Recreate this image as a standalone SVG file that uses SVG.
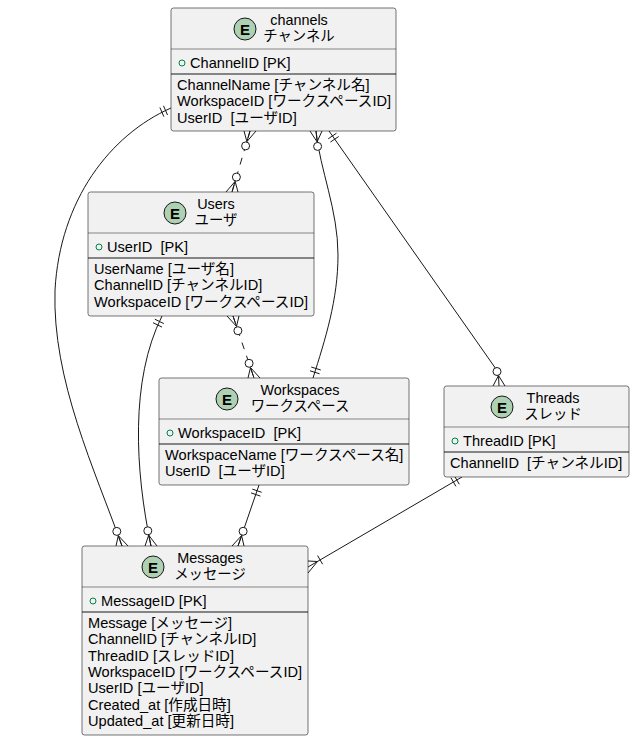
<svg xmlns="http://www.w3.org/2000/svg" width="635" height="741" viewBox="0 0 635 741">
<style>
.box{fill:#F1F1F1;stroke:#181818;stroke-width:0.6}
.hl{stroke:#181818;stroke-width:0.5}
.dv{stroke:#181818;stroke-width:1.2}
.ec{fill:#ADD1B2;stroke:#181818;stroke-width:1}
.el{font-family:"Liberation Sans",sans-serif;font-weight:bold;font-size:15px;fill:#000;text-anchor:middle}
.t{font-family:"Liberation Sans","Noto Sans CJK JP",sans-serif;font-size:14.6px;fill:#000;white-space:pre}
.tt{font-family:"Liberation Sans","Noto Sans CJK JP",sans-serif;font-size:14.4px;fill:#000;text-anchor:middle}
.pk{fill:none;stroke:#038048;stroke-width:1}
.ln{fill:none;stroke:#181818;stroke-width:1}
.dl{fill:none;stroke:#181818;stroke-width:1;stroke-dasharray:7,7}
.oc{fill:#FFFFFF;stroke:#181818;stroke-width:1}
</style>
<rect width="635" height="741" fill="#FFFFFF"/>

<g id="connectors">
<!-- channels - Users -->
<path class="dl" d="M250,131 L232,192"/>
<path class="ln" d="M244,131 L246.9,141.6 L256,131 M246.9,141.6 L250,131"/>
<circle class="oc" cx="245.6" cy="145.9" r="4"/>
<path class="ln" d="M226,192 L235.1,181.4 L238,192 M235.1,181.4 L232,192"/>
<circle class="oc" cx="236.4" cy="177.1" r="4"/>
<!-- channels - Workspaces -->
<path class="ln" d="M316,131 C320,170 338,210 338,255 C338,300 325,340 313,378"/>
<path class="ln" d="M310,131 L317.1,141.9 L322,131 M317.1,141.9 L316,131"/>
<circle class="oc" cx="317.6" cy="146.4" r="4"/>
<path class="ln" d="M310,370.8 L319.6,373.8 M311.2,367 L320.8,370"/>
<!-- channels - Threads -->
<path class="ln" d="M329,131 L496,369"/>
<path class="ln" d="M328.2,138.8 L336.5,133.2 M330.4,142.1 L338.7,136.5"/>
<path class="ln" d="M493,386 L498.5,375.5 L505,386 M498.5,375.5 L499,386"/>
<circle class="oc" cx="497" cy="371.5" r="4"/>
<!-- channels - Messages -->
<path class="ln" d="M171,108 C110,135 60,200 55,290 C52,380 95,470 122,546"/>
<path class="ln" d="M163.5,105.8 L167.5,115 M159.9,107.5 L163.9,116.7"/>
<path class="ln" d="M116,546 L118.3,535.6 L128,546 M118.3,535.6 L122,546"/>
<circle class="oc" cx="116.8" cy="531.4" r="4"/>
<!-- Users - Messages -->
<path class="ln" d="M162,316 C130,380 135,470 151,546"/>
<path class="ln" d="M154.8,319.2 L163.8,323.6 M153,322.7 L162,327.1"/>
<path class="ln" d="M145,546 L148.7,535.2 L157,546 M148.7,535.2 L151,546"/>
<circle class="oc" cx="147.8" cy="530.8" r="4"/>
<!-- Users - Workspaces -->
<path class="dl" d="M233,316 L254,378"/>
<path class="ln" d="M227,316 L236.5,326.4 L239,316 M236.5,326.4 L233,316"/>
<circle class="oc" cx="237.9" cy="330.7" r="4"/>
<path class="ln" d="M248,378 L250.5,367.6 L260,378 M250.5,367.6 L254,378"/>
<circle class="oc" cx="249.1" cy="363.3" r="4"/>
<!-- Workspaces - Messages -->
<path class="ln" d="M259,485 L238,546"/>
<path class="ln" d="M252.3,489.1 L261.7,492.3 M251,492.9 L260.4,496.1"/>
<path class="ln" d="M232,546 L241.6,535.6 L244,546 M241.6,535.6 L238,546"/>
<circle class="oc" cx="243.1" cy="531.3" r="4"/>
<!-- Threads - Messages -->
<path class="ln" d="M462,477 L308,567"/>
<path class="ln" d="M454.3,475.7 L459.3,484.3 M450.9,477.7 L455.9,486.3"/>
<path class="ln" d="M308,561 L317.5,561.5 L308,573"/>
<path class="ln" d="M317.6,555.6 L322.6,564.2"/>
</g>

<g id="channels">
<rect class="box" x="171" y="8" width="225" height="123" rx="2.5"/>
<circle class="ec" cx="245" cy="29" r="11"/>
<text class="el" x="245" y="34.5">E</text>
<text class="tt" x="299" y="25">channels</text>
<text class="tt" x="299" y="41">チャンネル</text>
<line class="hl" x1="171" y1="49" x2="396" y2="49"/>
<circle class="pk" cx="182" cy="63" r="3"/>
<text class="t" x="190" y="68">ChannelID [PK]</text>
<line class="dv" x1="171" y1="74" x2="396" y2="74"/>
<text class="t" x="177" y="90">ChannelName [チャンネル名]</text>
<text class="t" x="177" y="106.3">WorkspaceID [ワークスペースID]</text>
<text class="t" x="177" y="122.6">UserID  [ユーザID]</text>
</g>

<g id="Users">
<rect class="box" x="88" y="192" width="226" height="124" rx="2.5"/>
<circle class="ec" cx="175" cy="213" r="11"/>
<text class="el" x="175" y="218.5">E</text>
<text class="tt" x="216" y="209">Users</text>
<text class="tt" x="216" y="225">ユーザ</text>
<line class="hl" x1="88" y1="233" x2="314" y2="233"/>
<circle class="pk" cx="99" cy="247" r="3"/>
<text class="t" x="107" y="252">UserID  [PK]</text>
<line class="dv" x1="88" y1="258" x2="314" y2="258"/>
<text class="t" x="94" y="274">UserName [ユーザ名]</text>
<text class="t" x="94" y="290.3">ChannelID [チャンネルID]</text>
<text class="t" x="94" y="306.6">WorkspaceID [ワークスペースID]</text>
</g>

<g id="Workspaces">
<rect class="box" x="159" y="378" width="250" height="107" rx="2.5"/>
<circle class="ec" cx="227" cy="399" r="11"/>
<text class="el" x="227" y="404.5">E</text>
<text class="tt" x="300" y="395">Workspaces</text>
<text class="tt" x="300" y="411">ワークスペース</text>
<line class="hl" x1="159" y1="419" x2="409" y2="419"/>
<circle class="pk" cx="170" cy="433" r="3"/>
<text class="t" x="178" y="438">WorkspaceID  [PK]</text>
<line class="dv" x1="159" y1="444" x2="409" y2="444"/>
<text class="t" x="165" y="460">WorkspaceName [ワークスペース名]</text>
<text class="t" x="165" y="476.3">UserID  [ユーザID]</text>
</g>

<g id="Threads">
<rect class="box" x="444" y="386" width="185" height="91" rx="2.5"/>
<circle class="ec" cx="502" cy="407" r="11"/>
<text class="el" x="502" y="412.5">E</text>
<text class="tt" x="553" y="403">Threads</text>
<text class="tt" x="553" y="419">スレッド</text>
<line class="hl" x1="444" y1="427" x2="629" y2="427"/>
<circle class="pk" cx="455" cy="441" r="3"/>
<text class="t" x="463" y="446">ThreadID [PK]</text>
<line class="dv" x1="444" y1="452" x2="629" y2="452"/>
<text class="t" x="450" y="468">ChannelID  [チャンネルID]</text>
</g>

<g id="Messages">
<rect class="box" x="82" y="546" width="226" height="189" rx="2.5"/>
<circle class="ec" cx="153" cy="567" r="11"/>
<text class="el" x="153" y="572.5">E</text>
<text class="tt" x="210" y="563">Messages</text>
<text class="tt" x="210" y="579">メッセージ</text>
<line class="hl" x1="82" y1="587" x2="308" y2="587"/>
<circle class="pk" cx="93" cy="601" r="3"/>
<text class="t" x="101" y="606">MessageID [PK]</text>
<line class="dv" x1="82" y1="612" x2="308" y2="612"/>
<text class="t" x="88" y="628">Message [メッセージ]</text>
<text class="t" x="88" y="644.3">ChannelID [チャンネルID]</text>
<text class="t" x="88" y="660.6">ThreadID [スレッドID]</text>
<text class="t" x="88" y="676.9">WorkspaceID [ワークスペースID]</text>
<text class="t" x="88" y="693.2">UserID [ユーザID]</text>
<text class="t" x="88" y="709.5">Created_at [作成日時]</text>
<text class="t" x="88" y="725.8">Updated_at [更新日時]</text>
</g>
</svg>
